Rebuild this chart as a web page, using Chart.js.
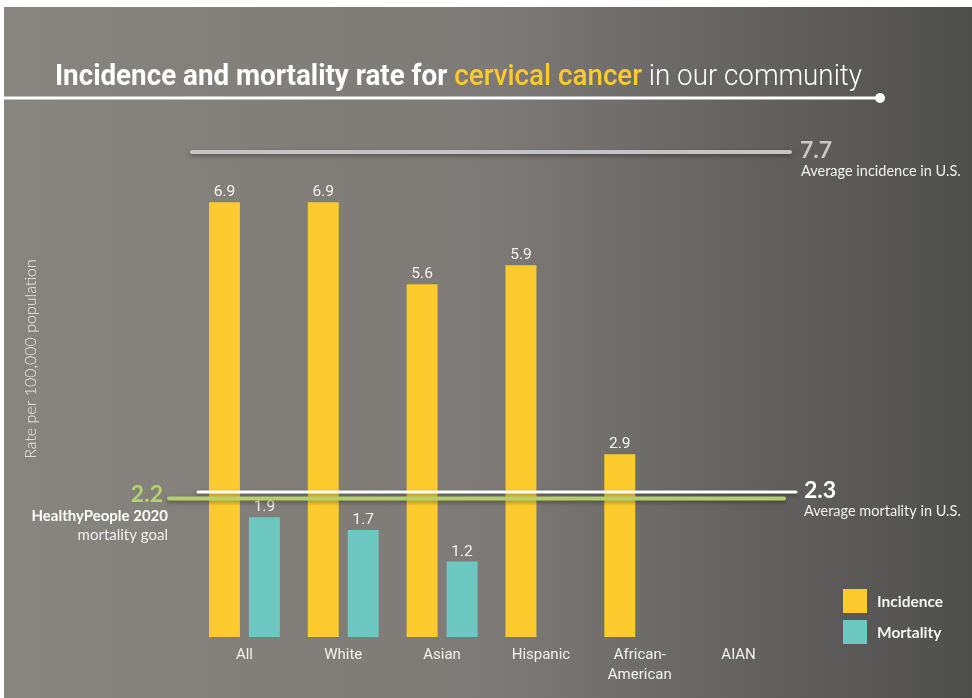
<!DOCTYPE html>
<html>
<head>
<meta charset="utf-8">
<style>
  html, body { margin: 0; padding: 0; background: #fff; }
  canvas { display: block; }
</style>
<script src="https://cdn.jsdelivr.net/npm/chart.js@4"></script>
</head>
<body>
<canvas id="cancer-chart" width="972" height="698"></canvas>
<script>
// Dados do gráfico
const categories = ['All', 'White', 'Asian', 'Hispanic', ['African-', 'American'], 'AIAN'];
const incidence = [6.9, 6.9, 5.6, 5.9, 2.9, null];
const mortality = [1.9, 1.7, 1.2, null, null, null];
const avgIncidenceUS = 7.7;
const avgMortalityUS = 2.3;
const healthyPeopleGoal = 2.2;

const YELLOW = '#fecb2f';
const TEAL = '#6ec8c2';
const GREEN = '#b3d26a';

// fundo em degradê + moldura branca
const backgroundPlugin = {
  id: 'bg',
  beforeDraw(chart) {
    const ctx = chart.ctx;
    ctx.save();
    ctx.fillStyle = '#ffffff';
    ctx.fillRect(0, 0, chart.width, chart.height);
    const g = ctx.createLinearGradient(4, 0, chart.width, 0);
    g.addColorStop(0, '#88847f');
    g.addColorStop(0.5, '#7d7a77');
    g.addColorStop(1, '#4e4e4d');
    ctx.fillStyle = g;
    ctx.fillRect(4, 7, chart.width - 4, chart.height - 7);
    ctx.restore();
  }
};

function refLine(ctx, x1, x2, y, color, width) {
  ctx.save();
  ctx.shadowColor = 'rgba(0,0,0,0.35)';
  ctx.shadowBlur = 4;
  ctx.shadowOffsetY = 2;
  ctx.strokeStyle = color;
  ctx.lineWidth = width;
  ctx.lineCap = 'round';
  ctx.beginPath();
  ctx.moveTo(x1, y);
  ctx.lineTo(x2, y);
  ctx.stroke();
  ctx.restore();
}

// textos, linhas de referência, legenda e título
const overlayPlugin = {
  id: 'overlay',
  afterDatasetsDraw(chart) {
    const ctx = chart.ctx;
    const y = chart.scales.y;

    // valores acima das barras
    ctx.save();
    ctx.font = '15.5px Roboto, sans-serif';
    ctx.fillStyle = '#f4f4f4';
    ctx.textAlign = 'center';
    ctx.textBaseline = 'bottom';
    chart.data.datasets.forEach((ds, di) => {
      chart.getDatasetMeta(di).data.forEach((bar, i) => {
        if (ds.data[i] == null) return;
        ctx.fillText(ds.data[i].toFixed(1), bar.x, bar.y - 2);
      });
    });
    ctx.restore();

    // linhas de referência
    const yInc = y.getPixelForValue(avgIncidenceUS);
    const yMort = y.getPixelForValue(avgMortalityUS);
    const yGoal = y.getPixelForValue(healthyPeopleGoal);
    refLine(ctx, 192, 790, yInc, '#c4c4c4', 4);
    refLine(ctx, 198, 796, yMort, '#ffffff', 3);
    refLine(ctx, 169, 784, yGoal, GREEN, 4);

    ctx.save();
    ctx.textBaseline = 'alphabetic';
    ctx.textAlign = 'left';
    ctx.font = 'bold 23px Lato, sans-serif';
    ctx.fillStyle = '#c8c8c8';
    ctx.fillText(avgIncidenceUS.toFixed(1), 800, yInc + 6);
    ctx.font = '14.5px Lato, sans-serif';
    ctx.fillStyle = '#f0f0f0';
    ctx.fillText('Average incidence in U.S.', 801, yInc + 24);

    ctx.font = 'bold 23px Lato, sans-serif';
    ctx.fillStyle = '#ffffff';
    ctx.fillText(avgMortalityUS.toFixed(1), 804, yMort + 6);
    ctx.font = '14.5px Lato, sans-serif';
    ctx.fillStyle = '#f0f0f0';
    ctx.fillText('Average mortality in U.S.', 804, yMort + 24);

    ctx.textAlign = 'right';
    ctx.font = 'bold 23px Lato, sans-serif';
    ctx.fillStyle = GREEN;
    ctx.fillText(healthyPeopleGoal.toFixed(1), 163, yGoal + 4);
    ctx.font = 'bold 15px Lato, sans-serif';
    ctx.fillStyle = '#ffffff';
    ctx.fillText('HealthyPeople 2020', 168, yGoal + 23);
    ctx.font = '15px Lato, sans-serif';
    ctx.fillStyle = '#f0f0f0';
    ctx.fillText('mortality goal', 168, yGoal + 42);

    // título do eixo y
    ctx.save();
    ctx.translate(36, 359);
    ctx.rotate(-Math.PI / 2);
    ctx.textAlign = 'center';
    ctx.font = '300 16px Lato, sans-serif';
    ctx.fillStyle = '#f0f0f0';
    ctx.fillText('Rate per 100,000 population', 0, 0);
    ctx.restore();

    // legenda
    ctx.textAlign = 'left';
    ctx.textBaseline = 'middle';
    ctx.font = 'bold 15.5px Lato, sans-serif';
    chart.data.datasets.forEach((ds, di) => {
      const top = 589 + di * 31;
      ctx.fillStyle = ds.backgroundColor;
      ctx.fillRect(843, top, 24, 24);
      ctx.fillStyle = '#f4f4f4';
      ctx.fillText(ds.label, 877, top + 13);
    });

    // título
    const parts = [
      { t: 'Incidence and mortality rate for ', f: '700 30px Roboto, sans-serif', c: '#ffffff' },
      { t: 'cervical cancer', f: '500 30px Roboto, sans-serif', c: '#fdc92e' },
      { t: ' in our community', f: '300 30px Roboto, sans-serif', c: '#ffffff' }
    ];
    let total = 0;
    parts.forEach(p => { ctx.font = p.f; p.w = ctx.measureText(p.t).width; total += p.w; });
    ctx.save();
    ctx.translate(55, 85);
    ctx.scale(807 / total, 1);
    ctx.textBaseline = 'alphabetic';
    let x = 0;
    parts.forEach(p => { ctx.font = p.f; ctx.fillStyle = p.c; ctx.fillText(p.t, x, 0); x += p.w; });
    ctx.restore();

    ctx.strokeStyle = '#ffffff';
    ctx.lineWidth = 3;
    ctx.beginPath();
    ctx.moveTo(4, 98);
    ctx.lineTo(880, 98);
    ctx.stroke();
    ctx.fillStyle = '#ffffff';
    ctx.beginPath();
    ctx.arc(880, 98, 5, 0, Math.PI * 2);
    ctx.fill();
    ctx.restore();
  }
};

const ctx = document.getElementById('cancer-chart').getContext('2d');
const chart = new Chart(ctx, {
  type: 'bar',
  data: {
    labels: categories,
    datasets: [
      { label: 'Incidence', data: incidence, backgroundColor: YELLOW },
      { label: 'Mortality', data: mortality, backgroundColor: TEAL }
    ]
  },
  options: {
    responsive: false,
    animation: false,
    categoryPercentage: 0.808,
    barPercentage: 0.775,
    layout: { padding: { left: 195, right: 184, top: 133, bottom: 0 } },
    plugins: {
      legend: { display: false },
      tooltip: { enabled: false }
    },
    scales: {
      x: {
        grid: { display: false, drawTicks: false },
        border: { display: false },
        ticks: {
          color: '#f2f2f2',
          padding: 8,
          font: { family: 'Roboto, sans-serif', size: 15, lineHeight: 1.35 }
        },
        afterFit(axis) { axis.height = 61; }
      },
      y: {
        display: false,
        min: 0,
        max: 8
      }
    }
  },
  plugins: [backgroundPlugin, overlayPlugin]
});
</script>
</body>
</html>
